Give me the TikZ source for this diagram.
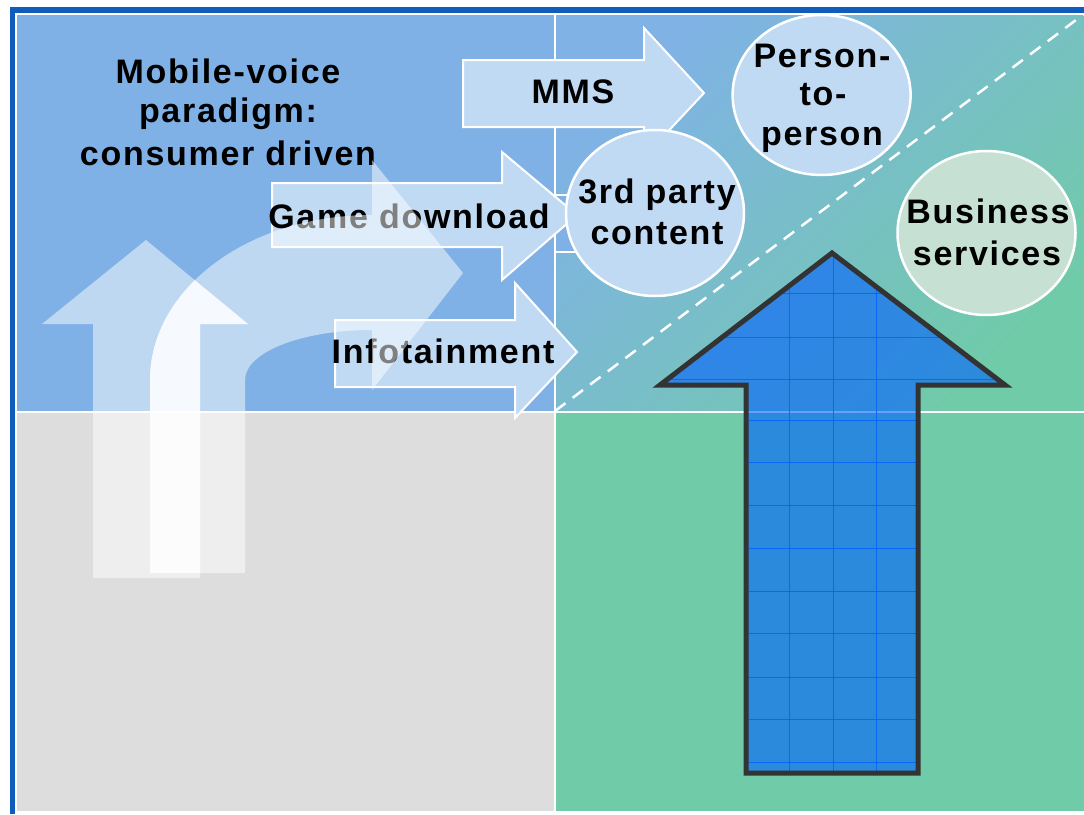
\documentclass[tikz,border=0pt]{standalone}
\usepackage{fontspec}
\newfontfamily\lbl{Liberation Sans}[LetterSpace=5]
\definecolor{tlblue}{RGB}{128,177,230}
\definecolor{qgray}{RGB}{221,221,221}
\definecolor{qgreen}{RGB}{112,203,168}
\definecolor{trblue}{RGB}{128,178,230}
\definecolor{lightfill}{RGB}{192,218,244}
\definecolor{bizfill}{RGB}{198,224,212}
\definecolor{framebl}{RGB}{14,92,190}
\definecolor{bigblue}{RGB}{0,96,255}
\definecolor{outl}{RGB}{51,51,51}
\begin{document}
\begin{tikzpicture}[x=1pt,y=-1pt,
  quad/.style={draw=white,line width=2pt},
  larrow/.style={fill=lightfill,draw=white,line width=2pt,line join=miter},
  bubble/.style={fill=lightfill,draw=white,line width=2.5pt},
  ghost/.style={fill=white,fill opacity=0.5},
  lab/.style={inner sep=0pt,anchor=base,font=\lbl\bfseries\fontsize{34}{40}\selectfont},
]
\useasboundingbox[fill=white] (0,0) rectangle (1084,814);
% frame
\draw[framebl,line width=5.5pt,line join=miter] (12.5,814) -- (12.5,10) -- (1084,10);
% quadrants
\filldraw[fill=tlblue,quad] (16,14) rectangle (555,412);
\filldraw[fill=qgray,quad] (16,412) rectangle (555,812);
\filldraw[fill=qgreen,quad] (555,412) rectangle (1087,812);
\shade[top color=trblue,bottom color=qgreen,shading angle=45] (555,14) rectangle (1087,412);
\draw[quad] (555,14) rectangle (1087,412);
% small box
\filldraw[fill=tlblue,quad] (555,195) rectangle (595,252);
% diagonal dashed line
\draw[white,line width=2.5pt,dash pattern=on 13pt off 9pt] (555,411) -- (1084,14);
% light arrows
\draw[larrow] (463,60) -- (644,60) -- (644,28) -- (704,93) -- (644,157) -- (644,127) -- (463,127) -- cycle;
\draw[larrow] (272,183) -- (502,183) -- (502,152) -- (577,215) -- (502,280) -- (502,247) -- (272,247) -- cycle;
\draw[larrow] (335,320) -- (515,320) -- (515,283) -- (577,352) -- (515,418) -- (515,387) -- (335,387) -- cycle;
% bubbles
\draw[bubble] (821.6,95) ellipse [x radius=89pt, y radius=80pt];
\draw[bubble] (655,213) ellipse [x radius=89pt, y radius=83pt];
\draw[bubble,fill=bizfill] (986.5,233) ellipse [x radius=89pt, y radius=82pt];
% texts
\node[lab] (t1) at (228,83) {Mobile-voice};
\node[lab] (t2) at (228,122) {paradigm:};
\node[lab] (t3) at (228,165) {consumer driven};
\node[lab] (mms) at (573,103) {MMS};
\node[lab] (game) at (409,228) {Game download};
\node[lab] (info) at (443,363) {Infotainment};
\node[lab] (p1) at (822,67) {Person-};
\node[lab] (p2) at (823,105) {to-};
\node[lab] (p3) at (822,145) {person};
\node[lab] (c1) at (657,203) {3rd party};
\node[lab] (c2) at (657,244) {content};
\node[lab] (b1) at (988,223) {Business};
\node[lab] (b2) at (987,265) {services};
% ghost arrows
\fill[ghost] (93,578) -- (93,324) -- (42,324) -- (146,240) -- (248,324) -- (200,324) -- (200,578) -- cycle;
\fill[ghost] (150,573) -- (150,380) .. controls (150,289) and (248,215) .. (372,215) -- (372,160) -- (463,273) -- (372,390) -- (372,330) .. controls (302,330) and (245,352) .. (245,380) -- (245,573) -- cycle;
\begin{scope}
\clip (93,578) -- (93,324) -- (42,324) -- (146,240) -- (248,324) -- (200,324) -- (200,578) -- cycle;
\fill[white,fill opacity=0.75] (150,573) -- (150,380) .. controls (150,289) and (248,215) .. (372,215) -- (372,160) -- (463,273) -- (372,390) -- (372,330) .. controls (302,330) and (245,352) .. (245,380) -- (245,573) -- cycle;
\end{scope}
% big blue arrow
\fill[bigblue,fill opacity=0.6] (832,253) -- (1005,385) -- (918,385) -- (918,773) -- (746,773) -- (746,385) -- (660,385) -- cycle;
\begin{scope}
\clip (832,253) -- (1005,385) -- (918,385) -- (918,773) -- (746,773) -- (746,385) -- (660,385) -- cycle;
\foreach \gx in {789,833,876} \draw[bigblue,line width=1pt,opacity=0.8] (\gx,245) -- (\gx,780);
\foreach \gy in {293,337,379,420,462,505,548,591,633,677,719,762} \draw[bigblue,line width=1pt,opacity=0.8] (650,\gy) -- (1010,\gy);
\end{scope}
\draw[outl,line width=5pt,line join=miter] (832,253) -- (1005,385) -- (918,385) -- (918,773) -- (746,773) -- (746,385) -- (660,385) -- cycle;
\end{tikzpicture}
\end{document}
